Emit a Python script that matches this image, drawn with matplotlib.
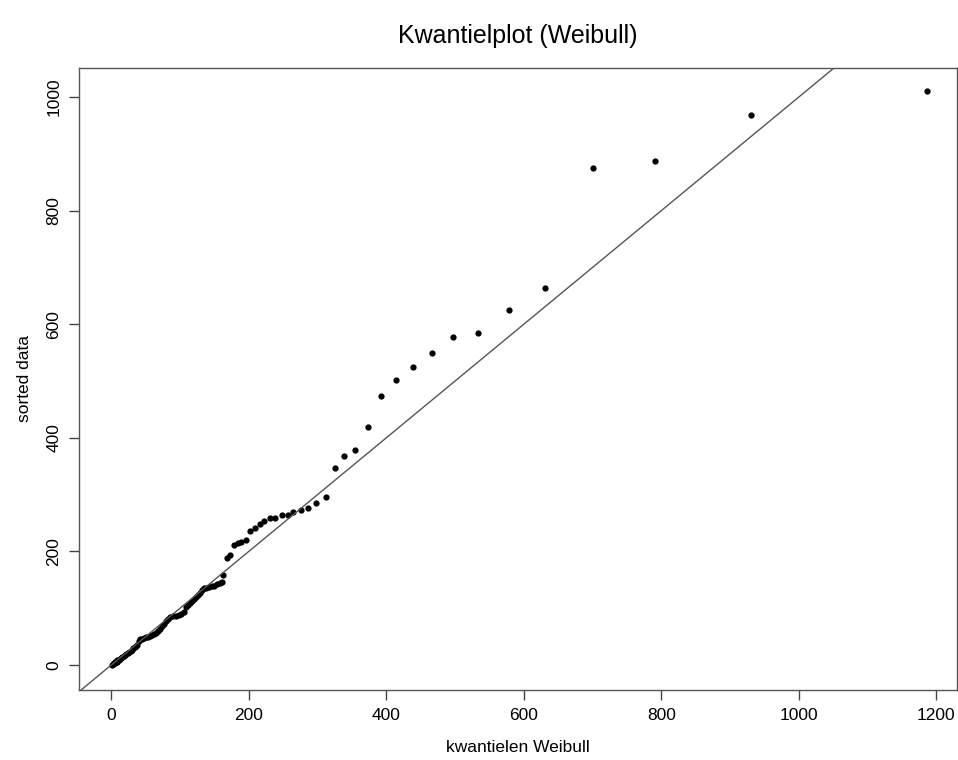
import numpy as np
import matplotlib.pyplot as plt

plt.rcParams['font.family'] = ['Liberation Sans', 'DejaVu Sans']

# theoretical Weibull quantiles (x) and sorted data (y)
kwantielen = [1, 2, 3, 4, 5, 6, 8, 9, 11, 12, 14, 16, 18, 20, 22, 24, 26, 28,
              30, 32, 34, 36, 38, 40, 42, 44, 47, 50, 53, 56, 59, 62, 65, 68,
              71, 74, 77, 80, 83, 86, 90, 94, 98, 102, 106, 108, 111, 114, 117,
              120, 123, 126, 129, 132, 135, 138, 142, 146, 150, 154, 158, 161,
              163, 168, 172, 178.5, 184, 189, 196, 202, 208.5, 216, 222, 231,
              238, 248, 256.5, 265, 276, 286, 298, 312, 325, 338, 355, 373,
              392, 414, 439, 466, 497, 534, 578, 631, 700, 791, 930, 1187]
sorted_data = [0, 1, 2, 3, 4, 5, 6, 8, 9, 11, 12, 14, 15, 17, 19, 21, 23, 25,
               27, 30, 31, 33, 36, 42, 45, 46, 48, 49, 50, 51, 52, 54, 57, 60,
               64, 68, 73, 77, 81, 84, 86, 87, 88, 90, 94, 103, 106, 110, 113,
               116, 119, 123, 127, 132, 135, 136, 137, 139, 140, 142, 144, 146,
               159, 188, 193, 211, 214, 216.5, 220.5, 236.5, 241.5, 247.5, 253,
               258, 258, 263.5, 264.5, 269, 273, 276, 285, 296, 347, 368, 378,
               419, 473, 502, 524, 549, 578, 585, 625, 664, 876, 887, 968, 1011]

fig = plt.figure(figsize=(9.58, 7.6), dpi=100)
ax = fig.add_axes([0.0828, 0.0921, 0.916, 0.819])

ax.plot(kwantielen, sorted_data, 'o', color='black', markersize=4.5,
        markeredgewidth=0)
ax.axline((0, 0), slope=1, color='#555555', linewidth=1)

ax.set_xlim(-46.5, 1230)
ax.set_ylim(-44, 1052)
ax.set_xticks([0, 200, 400, 600, 800, 1000, 1200])
ax.set_yticks([0, 200, 400, 600, 800, 1000])
ax.tick_params(direction='out', length=7, width=1, color='#444444',
               labelsize=12.5, pad=6)
for lab in ax.get_yticklabels():
    lab.set_rotation(90)
    lab.set_va('center')
for sp in ax.spines.values():
    sp.set_color('#555555')
    sp.set_linewidth(1)

ax.set_xlabel('kwantielen Weibull', fontsize=12.5, labelpad=12)
ax.set_ylabel('sorted data', fontsize=12.5, labelpad=10)
ax.set_title('Kwantielplot (Weibull)', fontsize=18, pad=18)

fig.savefig('out.png', dpi=100)
